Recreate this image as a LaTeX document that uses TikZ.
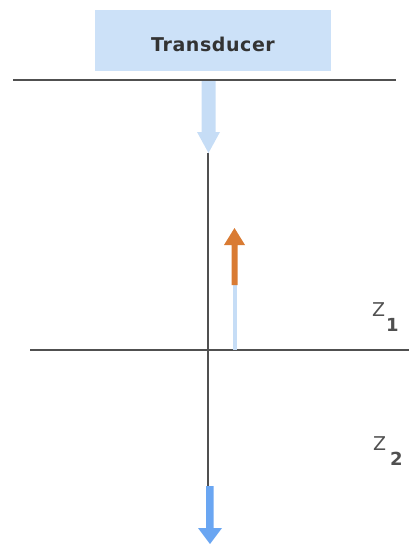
\documentclass[tikz,border=0pt]{standalone}
\usepackage{fontspec}
\setmainfont{DejaVu Sans}
\newfontfamily\boxfont[LetterSpace=3]{DejaVu Sans}
\definecolor{boxblue}{HTML}{CCE1F8}
\definecolor{paleblue}{HTML}{C6DDF6}
\definecolor{midblue}{HTML}{6AA6F2}
\definecolor{orangearr}{HTML}{D97B33}
\definecolor{linegray}{HTML}{505050}
\begin{document}
\begin{tikzpicture}[x=1pt,y=-1pt,
  rule/.style={draw=linegray,line width=1.6pt},
  lbl/.style={inner sep=0pt,font=\fontsize{19}{19}\selectfont,text=linegray},
  sub/.style={inner sep=0pt,font=\bfseries\fontsize{18}{18}\selectfont,text=linegray}]
\useasboundingbox (0,0) rectangle (409,544);
% transducer box
\node[fill=boxblue,minimum width=236pt,minimum height=61pt,inner sep=0pt] (tr) at (213,40.5) {};
\node[anchor=base,inner sep=0pt,font=\boxfont\bfseries\fontsize{19}{19}\selectfont,text=black!80] (trl) at (213,51) {Transducer};
% top surface line
\coordinate (tl) at (13,80); \coordinate (trr) at (396,80);
\draw[rule] (tl) -- (trr);
% interface line
\coordinate (ml) at (30,350); \coordinate (mr) at (409,350);
\draw[rule] (ml) -- (mr);
% vertical propagation line
\coordinate (vt) at (208,153); \coordinate (vb) at (208,486);
\draw[draw=linegray,line width=1.4pt] (vt) -- (vb);
% incident arrow
\fill[paleblue] (201.5,81) -- (215.5,81) -- (215.5,132) -- (220,132) -- (208.5,153) -- (197,132) -- (201.5,132) -- cycle;
% reflected thin pale line
\fill[paleblue] (232.5,284) rectangle (237,350);
% reflected orange arrow
\fill[orangearr] (231.5,285) -- (237.5,285) -- (237.5,245) -- (245,245) -- (234.5,228) -- (224,245) -- (231.5,245) -- cycle;
% transmitted arrow
\fill[midblue] (206,486) -- (213.5,486) -- (213.5,528) -- (222,528) -- (210,544) -- (198,528) -- (206,528) -- cycle;
% labels
\node[lbl,anchor=base west] (z1) at (372,316) {Z};
\node[sub,anchor=base west] (s1) at (386,331) {1};
\node[lbl,anchor=base west] (z2) at (373,450) {Z};
\node[sub,anchor=base west] (s2) at (390,465) {2};
\end{tikzpicture}
\end{document}
